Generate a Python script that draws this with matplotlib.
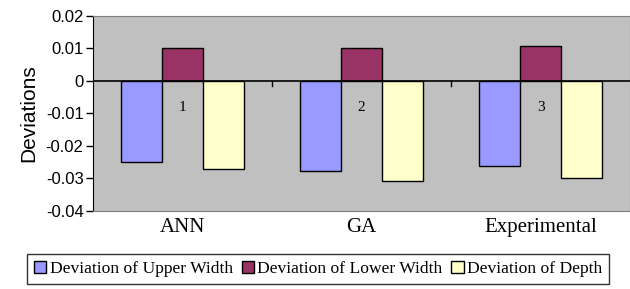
import numpy as np
import matplotlib.pyplot as plt
from matplotlib.transforms import blended_transform_factory

methods = ['ANN', 'GA', 'Experimental']
group_ids = ['1', '2', '3']
series_names = ['Deviation of Upper Width', 'Deviation of Lower Width', 'Deviation of Depth']
upper_width = [-0.0248, -0.0277, -0.0261]
lower_width = [0.0100, 0.0100, 0.0108]
depth = [-0.0272, -0.0307, -0.0298]
colors = ['#9999FF', '#993366', '#FFFFCC']

fig = plt.figure(figsize=(6.3, 2.89), dpi=100)
ax = fig.add_axes([0.148, 0.270, 0.852, 0.675])
ax.set_facecolor('#C0C0C0')

x = np.arange(len(methods))
w = 0.229
for k, (vals, name, c) in enumerate(zip([upper_width, lower_width, depth], series_names, colors)):
    ax.bar(x + (k - 1) * w, vals, width=w, color=c, edgecolor='black', linewidth=1.0,
           label=name, zorder=2)

ax.axhline(0, color='black', linewidth=1.2, zorder=3)
# category tick marks on the zero line
for b in [0.5, 1.5]:
    ax.plot([b, b], [0, -0.0015], color='black', linewidth=1.0, zorder=3)

ax.set_xlim(-0.5, 2.5)
ax.set_ylim(-0.04, 0.02)
ax.set_yticks([0.02, 0.01, 0, -0.01, -0.02, -0.03, -0.04])
ax.set_yticklabels(['0.02', '0.01', '0', '-0.01', '-0.02', '-0.03', '-0.04'],
                   fontfamily='Liberation Sans', fontsize=12)
ax.set_xticks([])
ax.tick_params(axis='y', length=5, width=1, direction='out', pad=2)

for side in ['top', 'right', 'bottom']:
    ax.spines[side].set_color('#808080')
ax.spines['left'].set_color('black')

ax.set_ylabel('Deviations', fontfamily='Liberation Sans', fontsize=15, labelpad=5)

for i, gid in enumerate(group_ids):
    ax.text(x[i], -0.0083, gid, ha='center', va='center',
            fontfamily='Liberation Serif', fontsize=11, zorder=4)

trans = blended_transform_factory(ax.transData, ax.transAxes)
for i, m in enumerate(methods):
    ax.text(x[i], -0.087, m, ha='center', va='center', transform=trans,
            fontfamily='Liberation Serif', fontsize=15)

leg = fig.legend(loc='center', bbox_to_anchor=(0.505, 0.07), ncol=3, frameon=True,
                 fancybox=False, edgecolor='black', handlelength=0.7, handleheight=0.7,
                 handletextpad=0.2, columnspacing=0.5, borderpad=0.4,
                 prop={'family': 'Liberation Serif', 'size': 12.6})
leg.get_frame().set_linewidth(1.0)

fig.savefig('out.png', dpi=100, facecolor='white')
